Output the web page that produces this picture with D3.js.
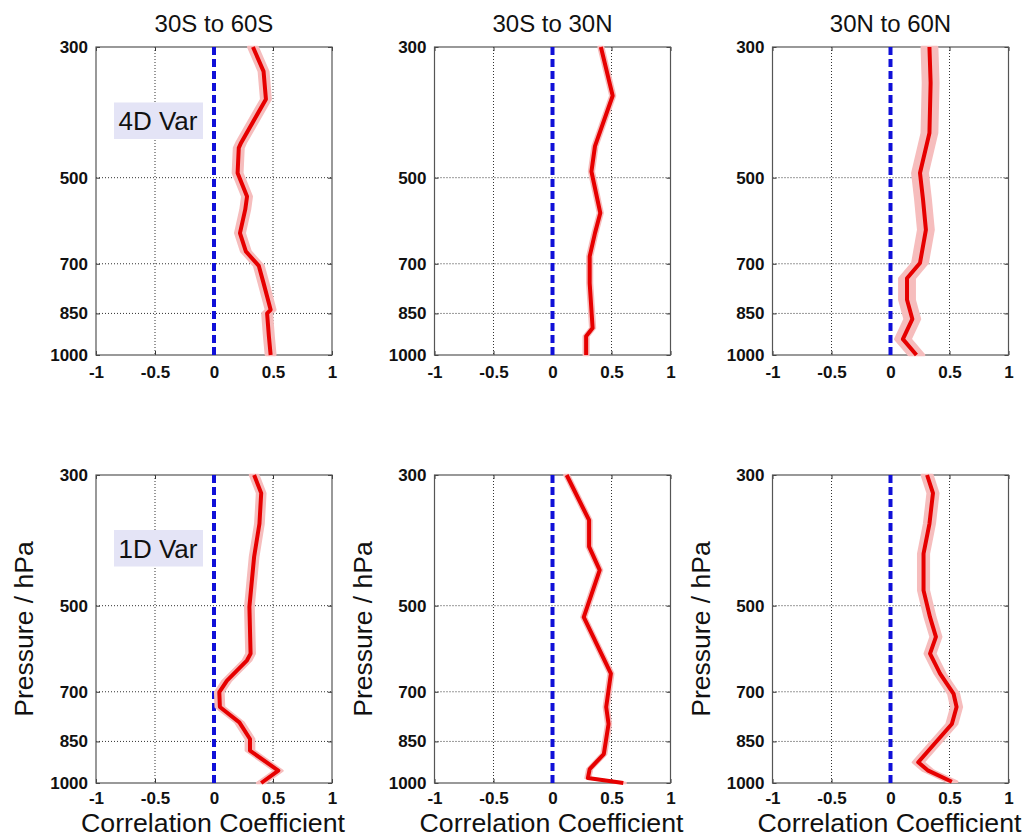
<!DOCTYPE html>
<html>
<head>
<meta charset="utf-8">
<script src="https://cdn.jsdelivr.net/npm/d3@7"></script>
<style>
  html, body { margin: 0; padding: 0; background: #fff; }
  svg { display: block; font-family: "Liberation Sans", Arial, Helvetica, sans-serif; }
</style>
</head>
<body>
<svg id="chart" width="1022" height="838"></svg>
<script>
// ---------------- data ----------------
const regions = ["30S to 60S", "30S to 30N", "30N to 60N"];
const schemes = ["4D Var", "1D Var"];
const pressureTicks = [300, 500, 700, 850, 1000];
const corrTicks = [-1, -0.5, 0, 0.5, 1];
const pressureGrid = [500, 700, 850];
const corrGrid = [-0.5, 0.5];

// 4D Var
const p4dSouth = [300, 330, 368, 436, 445, 491, 538, 566, 621, 667, 706, 755, 838, 850, 929, 1000];
const r4dSouth = [0.33, 0.42, 0.44, 0.23, 0.21, 0.20, 0.28, 0.265, 0.22, 0.27, 0.38, 0.42, 0.48, 0.45, 0.465, 0.48];
const p4dTrop = [300, 363, 442, 488, 574, 621, 680, 755, 900, 929, 1000];
const r4dTrop = [0.41, 0.51, 0.36, 0.33, 0.405, 0.36, 0.315, 0.315, 0.34, 0.285, 0.285];
const p4dNorth = [300, 345, 420, 491, 543, 613, 698, 741, 806, 869, 940, 1000];
const r4dNorth = [0.33, 0.34, 0.33, 0.25, 0.275, 0.30, 0.25, 0.14, 0.14, 0.185, 0.105, 0.22];

// 1D Var
const p1dSouth = [300, 322, 363, 413, 502, 603, 619, 670, 701, 743, 789, 842, 881, 953, 1000];
const r1dSouth = [0.34, 0.40, 0.385, 0.34, 0.30, 0.31, 0.28, 0.11, 0.045, 0.05, 0.215, 0.305, 0.305, 0.545, 0.40];
const p1dTrop = [300, 358, 397, 435, 523, 652, 743, 794, 893, 947, 981, 1000];
const r1dTrop = [0.12, 0.31, 0.31, 0.40, 0.265, 0.495, 0.455, 0.475, 0.435, 0.315, 0.30, 0.60];
const p1dNorth = [300, 322, 363, 408, 471, 523, 565, 603, 652, 706, 743, 794, 922, 953, 995];
const r1dNorth = [0.31, 0.36, 0.33, 0.28, 0.28, 0.335, 0.385, 0.335, 0.42, 0.535, 0.56, 0.52, 0.235, 0.32, 0.52];

// uncertainty half-width of each profile (correlation units)
const spread4d = [0.04, 0.02, 0.065];
const spread1d = [0.035, 0.02, 0.045];

const series = [
  [[p4dSouth, r4dSouth], [p4dTrop, r4dTrop], [p4dNorth, r4dNorth]],
  [[p1dSouth, r1dSouth], [p1dTrop, r1dTrop], [p1dNorth, r1dNorth]]
];
const spreads = [spread4d, spread1d];

// ---------------- layout ----------------
const svg = d3.select("#chart");
svg.append("rect").attr("width", 1022).attr("height", 838).attr("fill", "#fff");

const colLeft = [96, 434.5, 772.5];
const rowTop = [47, 475];
const pw = 236, ph = 308;

rowTop.forEach((top, ri) => {
  colLeft.forEach((left, ci) => {
    const x = d3.scaleLinear().domain([-1, 1]).range([left, left + pw]);
    const y = d3.scaleLog().domain([300, 1000]).range([top, top + ph]);
    const g = svg.append("g");

    // grid
    g.selectAll(".vg").data(corrGrid).join("line")
      .attr("x1", d => x(d)).attr("x2", d => x(d))
      .attr("y1", top).attr("y2", top + ph)
      .attr("stroke", "#333").attr("stroke-width", 1).attr("stroke-dasharray", "1,2");
    g.selectAll(".hg").data(pressureGrid).join("line")
      .attr("x1", left).attr("x2", left + pw)
      .attr("y1", d => y(d)).attr("y2", d => y(d))
      .attr("stroke", "#333").attr("stroke-width", 1).attr("stroke-dasharray", "1,2");

    // axes
    const ax = g.append("g");
    ax.append("g").attr("transform", `translate(${left},0)`)
      .call(d3.axisLeft(y).tickValues(pressureTicks).tickFormat(d => String(d))
        .tickSizeInner(-4).tickSizeOuter(0).tickPadding(8));
    ax.append("g").attr("transform", `translate(${left + pw},0)`)
      .call(d3.axisRight(y).tickValues(pressureTicks).tickFormat("")
        .tickSizeInner(-4).tickSizeOuter(0));
    ax.append("g").attr("transform", `translate(0,${top + ph})`)
      .call(d3.axisBottom(x).tickValues(corrTicks).tickFormat(d => String(d))
        .tickSizeInner(-4).tickSizeOuter(0).tickPadding(ri === 0 ? 11 : 9));
    ax.append("g").attr("transform", `translate(0,${top})`)
      .call(d3.axisTop(x).tickValues(corrTicks).tickFormat("")
        .tickSizeInner(-4).tickSizeOuter(0));
    ax.selectAll(".domain").remove();
    ax.selectAll(".tick line").attr("stroke", "#333");
    ax.selectAll(".tick text").attr("fill", "#111")
      .style("font-size", "17px").style("font-weight", "bold")
      .style("font-family", "'Liberation Sans', Arial, sans-serif");

    // frame
    g.append("rect").attr("x", left).attr("y", top).attr("width", pw).attr("height", ph)
      .attr("fill", "none").attr("stroke", "#555").attr("stroke-width", 1.2);

    // zero line
    g.append("line")
      .attr("x1", x(0)).attr("x2", x(0)).attr("y1", y(300)).attr("y2", y(1000))
      .attr("stroke", "#1010d8").attr("stroke-width", 4).attr("stroke-dasharray", "8,4");

    // profile
    const [ps, rs] = series[ri][ci];
    const s = spreads[ri][ci];
    const pts = ps.map((p, i) => ({ p, r: rs[i] }));
    g.append("path").datum(pts)
      .attr("d", d3.area().y(d => y(d.p)).x0(d => x(d.r - s)).x1(d => x(d.r + s)))
      .attr("fill", "#f6bdbd").attr("stroke", "#f6bdbd").attr("stroke-width", 2.5)
      .attr("stroke-linejoin", "round");
    g.append("path").datum(pts)
      .attr("d", d3.line().y(d => y(d.p)).x(d => x(d.r)))
      .attr("fill", "none").attr("stroke", "#e60000").attr("stroke-width", 4)
      .attr("stroke-linejoin", "round").attr("stroke-linecap", "butt");

    const cx = left + pw / 2;
    if (ri === 0) {
      g.append("text").attr("x", cx).attr("y", 32).attr("text-anchor", "middle")
        .style("font-size", "24px").attr("fill", "#111").text(regions[ci]);
    } else {
      g.append("text").attr("transform", `translate(${cx - 1},832) scale(1.07,1)`)
        .attr("text-anchor", "middle")
        .style("font-size", "25px").attr("fill", "#111").text("Correlation Coefficient");
      g.append("text").attr("transform", `translate(${left - 63},${top + ph / 2}) rotate(-90)`)
        .attr("text-anchor", "middle")
        .style("font-size", "26.5px").attr("fill", "#111").text("Pressure / hPa");
    }

    // scheme label box
    if (ci === 0) {
      const by = ri === 0 ? 102.5 : 530;
      g.append("rect").attr("x", 114).attr("y", by).attr("width", 89).attr("height", 36.5)
        .attr("fill", "#e4e4f6");
      g.append("text").attr("x", 158).attr("y", by + 27.5).attr("text-anchor", "middle")
        .style("font-size", "26px").attr("fill", "#111").text(schemes[ri]);
    }
  });
});
</script>
</body>
</html>
